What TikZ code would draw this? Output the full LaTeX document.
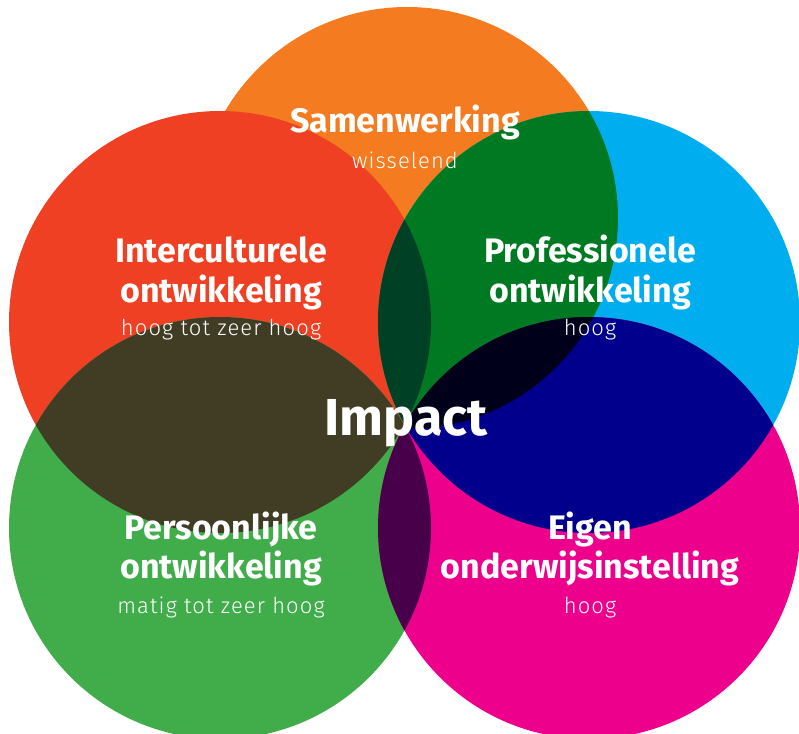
\documentclass[tikz,border=0pt]{standalone}
\usepackage{fontspec}
\setmainfont{Fira Sans}
\newfontfamily\lightfont{Fira Sans Light}[LetterSpace=5]
\definecolor{cor}{HTML}{F47B20}
\definecolor{cred}{HTML}{EF4023}
\definecolor{cblue}{HTML}{00ADEE}
\definecolor{cgreen}{HTML}{40AD4A}
\definecolor{cmag}{HTML}{EC008C}
\definecolor{cdg}{HTML}{007A22}
\definecolor{cdg2}{HTML}{004024}
\definecolor{colive}{HTML}{413D25}
\definecolor{cnavy}{HTML}{00008C}
\definecolor{cblack}{HTML}{00001A}
\definecolor{cpurple}{HTML}{48004A}
\begin{document}
\begin{tikzpicture}[x=1pt,y=-1pt,
  title/.style={text=white,font=\bfseries\fontsize{34}{40}\selectfont,anchor=base,inner sep=0pt},
  sub/.style={text=white,font=\lightfont\fontsize{22}{26}\selectfont,anchor=base,inner sep=0pt},
  big/.style={text=white,font=\bfseries\fontsize{52}{60}\selectfont,anchor=base,inner sep=0pt}]
\useasboundingbox (0,0) rectangle (799,733);
\def\R{211}
\coordinate (O) at (407,218);
\coordinate (Rd) at (220,322);
\coordinate (B) at (589,322);
\coordinate (G) at (220,528);
\coordinate (M) at (589,528);
% base circles
\fill[cor] (O) circle[radius=\R];
\fill[cred] (Rd) circle[radius=\R];
\fill[cblue] (B) circle[radius=\R];
\fill[cgreen] (G) circle[radius=\R];
\fill[cmag] (M) circle[radius=\R];
% overlaps
\begin{scope}\clip (B) circle[radius=\R]; \fill[cdg] (O) circle[radius=\R]; \end{scope}
\begin{scope}\clip (B) circle[radius=\R]; \fill[cdg2] (Rd) circle[radius=\R]; \end{scope}
\begin{scope}\clip (B) circle[radius=\R]; \fill[cnavy] (M) circle[radius=\R]; \end{scope}
\begin{scope}\clip (B) circle[radius=\R]; \clip (M) circle[radius=\R]; \fill[cblack] (O) circle[radius=\R]; \end{scope}
\begin{scope}\clip (Rd) circle[radius=\R]; \fill[colive] (G) circle[radius=\R]; \end{scope}
\begin{scope}\clip (G) circle[radius=\R]; \fill[cpurple] (M) circle[radius=\R]; \end{scope}
% texts
\node[title] (s1) at (405,132) {Samenwerking};
\node[sub] (s2) at (405,168) {wisselend};
\node[title] (i1) at (221,262) {Interculturele};
\node[title] (i2) at (221,302) {ontwikkeling};
\node[sub] (i3) at (221,335) {hoog tot zeer hoog};
\node[title] (p1) at (590,262) {Professionele};
\node[title] (p2) at (590,302) {ontwikkeling};
\node[sub] (p3) at (590,335) {hoog};
\node[title] (q1) at (221,539) {Persoonlijke};
\node[title] (q2) at (221,578) {ontwikkeling};
\node[sub] (q3) at (221,613) {matig tot zeer hoog};
\node[title] (e1) at (590,539) {Eigen};
\node[title] (e2) at (590,578) {onderwijsinstelling};
\node[sub] (e3) at (590,613) {hoog};
\node[big] (im) at (406,435) {Impact};
\end{tikzpicture}
\end{document}
